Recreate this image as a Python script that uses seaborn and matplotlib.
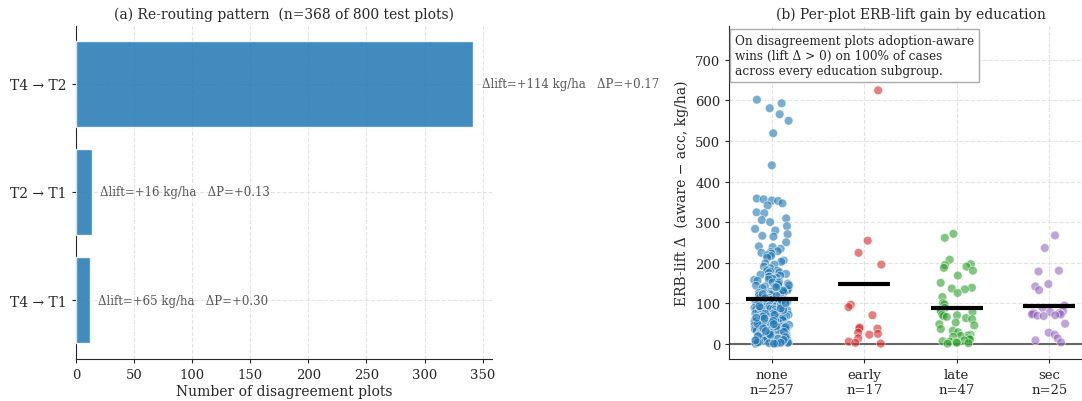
import numpy as np
import pandas as pd
import seaborn as sns
import matplotlib.pyplot as plt

sns.set_style('white')
plt.rcParams['font.family'] = ['DejaVu Serif']
plt.rcParams['axes.unicode_minus'] = True

# Panel (a): re-routing pattern
routes = ['T4 → T2', 'T2 → T1', 'T4 → T1']
route_counts = [342, 14, 12]
route_lift = [114, 16, 65]
route_dp = [0.17, 0.13, 0.30]

# Panel (b): per-plot ERB-lift gain by education
edu_groups = ['none', 'early', 'late', 'sec']
edu_means = [111, 147, 88, 92]

lift_none = [
    602, 593, 581, 566, 550, 519, 440,
    358, 356, 353, 352, 346, 341, 324, 322, 309, 305, 300, 290, 283, 279,
    270, 266, 264, 250, 240, 238, 234, 228, 226, 224, 222, 218, 216, 212,
    205, 202, 198, 195, 190, 186, 182, 180, 179, 178, 176, 174, 172, 170,
    168, 166, 165, 162, 160, 158, 157, 155, 153, 151, 150,
    148, 146, 143, 141, 140, 137, 135, 132, 130, 128,
    127, 125, 124, 123, 121, 120, 119, 117, 116, 115,
    114, 113, 112, 111, 110, 109, 108, 107, 106, 105,
    104, 103, 102, 101, 100, 99, 99, 98, 97, 96,
    95, 94, 93, 92, 91, 91, 90, 89, 88, 87,
    86, 85, 85, 84, 83, 82, 81, 80, 80, 79,
    78, 77, 76, 75, 75, 74, 73, 72, 71, 70,
    70, 69, 68, 67, 66, 65, 65, 64, 63, 62,
    61, 60, 60, 59, 58, 57, 56, 55, 55, 54,
    53, 52, 51, 50, 50, 49, 48, 47, 46, 45,
    45, 44, 43, 42, 41, 40, 40, 39, 38, 37,
    36, 35, 35, 34, 33, 32, 31, 30, 30, 29,
    28, 27, 26, 25, 25, 24, 23, 22, 21, 20,
    20, 19, 18, 17, 16, 15, 15, 14, 13, 12,
    11, 10, 10, 9, 8, 7, 6, 5, 5, 4,
    3, 2, 1, 0, 0, 144, 131, 118, 96, 88,
    74, 67, 58, 49, 41, 33, 27, 18, 12, 6,
    139, 122, 106, 92, 83, 71, 62, 52, 43, 38,
    29, 24, 16, 9, 3, 1, 112, 87, 56, 22,
    100, 64, 48, 31, 8, 2, 0,
]
lift_early = [625, 254, 224, 195, 96, 90, 70, 40, 38, 37, 27, 24, 22, 13, 5, 2, 0]
lift_late = [271, 261, 207, 196, 194, 190, 187, 180, 168, 150, 138, 136, 134, 125,
             115, 100, 97, 88, 82, 80, 78, 72, 70, 68, 66, 63, 60, 52, 48, 45,
             36, 32, 28, 22, 20, 19, 17, 15, 12, 10, 8, 6, 5, 4, 2, 1, 0]
lift_sec = [267, 236, 180, 178, 147, 141, 132, 94, 88, 80, 78, 76, 75, 74, 72,
            72, 70, 69, 68, 49, 27, 22, 13, 8, 3]

edu_colors = ['tab:blue', 'tab:red', 'tab:green', 'tab:purple']

fig = plt.figure(figsize=(10.82, 4.02), dpi=100)
ax1 = fig.add_axes([0.0702, 0.1045, 0.3845, 0.8285])
ax2 = fig.add_axes([0.674, 0.1045, 0.335, 0.8285])

# ---- (a) bars
df_a = pd.DataFrame({'route': routes, 'count': route_counts})
sns.barplot(data=df_a, x='count', y='route', ax=ax1, color='tab:blue', alpha=0.85,
            saturation=1, edgecolor='white', linewidth=1, width=0.8, orient='h', zorder=3)
for i, (c, l, d) in enumerate(zip(route_counts, route_lift, route_dp)):
    ax1.text(c + 7, i, f'Δlift=+{l} kg/ha   ΔP=+{d:.2f}', va='center', ha='left',
             fontsize=8.5, color='#555555', zorder=4)
ax1.set_xlim(0, 358)
ax1.set_ylim(2.546, -0.537)
ax1.set_xticks(np.arange(0, 351, 50))
ax1.set_xlabel('Number of disagreement plots', fontsize=10, labelpad=2)
ax1.set_ylabel('')
ax1.set_title('(a) Re-routing pattern  (n=368 of 800 test plots)', fontsize=10)
ax1.tick_params(axis='both', labelsize=9.5, length=3, left=True, bottom=True)
ax1.tick_params(axis='y', labelsize=10)
ax1.grid(True, color='#dddddd', linestyle='--', linewidth=0.8, alpha=0.8, zorder=0)
ax1.set_axisbelow(True)
sns.despine(ax=ax1)

# ---- (b) strip plot
df_b = pd.DataFrame({
    'edu': (['none'] * len(lift_none) + ['early'] * len(lift_early)
            + ['late'] * len(lift_late) + ['sec'] * len(lift_sec)),
    'lift': lift_none + lift_early + lift_late + lift_sec,
})
np.random.seed(7)
sns.stripplot(data=df_b, x='edu', y='lift', hue='edu', order=edu_groups,
              hue_order=edu_groups, palette=edu_colors, legend=False,
              jitter=0.19, size=6.3, alpha=0.6, edgecolor='white', linewidth=0.6,
              ax=ax2, zorder=3)
ax2.axhline(0, color='#666666', linewidth=1.5, zorder=2)
for i, m in enumerate(edu_means):
    ax2.hlines(m, i - 0.28, i + 0.28, color='black', linewidth=3, zorder=5)
ax2.set_xlim(-0.46, 3.46)
ax2.set_ylim(-38, 784)
ax2.set_yticks(np.arange(0, 701, 100))
n_counts = [len(lift_none), len(lift_early), len(lift_late), len(lift_sec)]
ax2.set_xticks(range(len(edu_groups)))
ax2.set_xticklabels([f'{g}\nn={n}' for g, n in zip(edu_groups, n_counts)])
ax2.set_xlabel('')
ax2.set_ylabel('ERB-lift Δ  (aware − acc, kg/ha)', fontsize=10)
ax2.set_title('(b) Per-plot ERB-lift gain by education', fontsize=10)
ax2.tick_params(axis='both', labelsize=9.5, length=3, left=True, bottom=True)
ax2.grid(True, color='#dddddd', linestyle='--', linewidth=0.8, alpha=0.8, zorder=0)
ax2.set_axisbelow(True)
ax2.text(0.016, 0.975, 'On disagreement plots adoption-aware\nwins (lift Δ > 0) on 100% of cases\n'
         'across every education subgroup.', transform=ax2.transAxes, va='top', ha='left',
         fontsize=8.7, zorder=6,
         bbox=dict(boxstyle='square,pad=0.4', facecolor='white', edgecolor='#aaaaaa'))
sns.despine(ax=ax2)

fig.savefig('out.png', dpi=100)
